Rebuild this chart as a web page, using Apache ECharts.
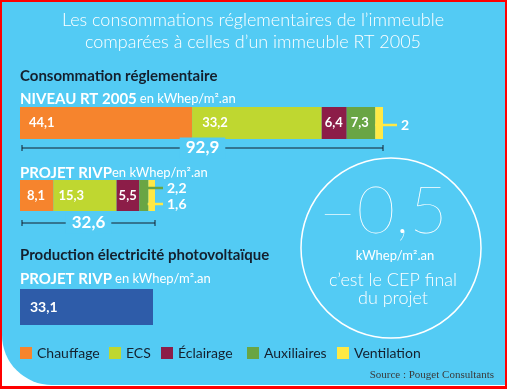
<!DOCTYPE html>
<html><head><meta charset="utf-8">
<script src="https://cdn.jsdelivr.net/npm/echarts@6/dist/echarts.min.js"></script>
<style>html,body{margin:0;padding:0;background:#fff}#c{width:507px;height:389px}</style>
</head><body><div id="c"></div>
<script>
const categories = ['Chauffage', 'ECS', 'Éclairage', 'Auxiliaires', 'Ventilation'];
const rt2005 = [44.1, 33.2, 6.4, 7.3, 2];
const rivp = [8.1, 15.3, 5.5, 2.2, 1.6];
const pvNames = ['Photovoltaïque'];
const pv = [33.1];
const rt2005Total = 92.9;
const rivpTotal = 32.6;
const cepFinal = -0.5;

const colors = ['#F6842D', '#BFD730', '#8C1D48', '#69A544', '#FFE945'];
const BG = '#53CBF4', DARK = '#14202e', FONT = 'Lato, "Open Sans", sans-serif';
const fmt = v => String(v).replace('.', ',');
const sum = a => a.reduce((s, v) => s + v, 0);

const chart = echarts.init(document.getElementById('c'), null, {renderer: 'canvas'});

const lblDistTop = [9, 10, 3, 4];
const lblDistBot = [7, 5, 2];
const series = [];
categories.forEach((name, i) => {
  series.push({
    name, type: 'bar', stack: 'rt', xAxisIndex: 0, yAxisIndex: 0, barWidth: '100%',
    data: [rt2005[i]], itemStyle: {color: colors[i]}, silent: true,
    label: {show: i < 4, position: 'insideLeft', distance: lblDistTop[i] || 5,
      formatter: p => fmt(p.value), color: '#fff', fontWeight: 'bold', fontSize: 13, fontFamily: FONT}
  });
  series.push({
    name, type: 'bar', stack: 'rivp', xAxisIndex: 1, yAxisIndex: 1, barWidth: '100%',
    data: [rivp[i]], itemStyle: {color: colors[i]}, silent: true,
    label: {show: i < 3, position: 'insideLeft', distance: lblDistBot[i] || 5,
      formatter: p => fmt(p.value), color: '#fff', fontWeight: 'bold', fontSize: 13, fontFamily: FONT}
  });
});
series.push({
  name: pvNames[0], type: 'bar', xAxisIndex: 2, yAxisIndex: 2, barWidth: '100%',
  data: pv, itemStyle: {color: '#2E5CA9'}, silent: true,
  label: {show: true, position: 'insideLeft', distance: 10, formatter: p => fmt(p.value),
    color: '#fff', fontWeight: 'bold', fontSize: 14, fontFamily: FONT}
});

const grids = [
  {left: 20, top: 107, width: 363, height: 32},
  {left: 20, top: 180, width: 135, height: 31},
  {left: 20, top: 289, width: 133, height: 36}
];
const maxes = [sum(rt2005), sum(rivp), pv[0]];
const legendX = [20, 109, 161, 247, 337];

chart.setOption({
  animation: false,
  grid: grids,
  xAxis: grids.map((g, i) => ({type: 'value', gridIndex: i, min: 0, max: maxes[i], show: false})),
  yAxis: grids.map((g, i) => ({type: 'category', gridIndex: i, data: ['a'], show: false})),
  legend: categories.map((name, i) => ({
    data: [name], left: legendX[i], top: 346, padding: 0, icon: 'rect', itemWidth: 12, itemHeight: 12,
    selectedMode: false, textStyle: {color: DARK, fontSize: 14, fontFamily: FONT}
  })),
  series
});

const px = (gi, v) => chart.convertToPixel({gridIndex: gi}, [v, 0]);

const G = [];
// frame and background
G.push({type: 'rect', z: -30, shape: {x: 0, y: 0, width: 507, height: 389}, style: {fill: '#FF0000'}, silent: true});
G.push({type: 'rect', z: -29, shape: {x: 2, y: 2, width: 503, height: 384}, style: {fill: '#fff'}, silent: true});
G.push({type: 'rect', z: -28, shape: {x: 2, y: 2, width: 503, height: 383, r: [0, 0, 0, 50]}, style: {fill: BG}, silent: true});

function text(x, y, t, st) {
  G.push({type: 'text', z: 50, x, y, silent: true,
    style: Object.assign({text: t, fill: '#fff', fontFamily: FONT, textVerticalAlign: 'middle', verticalAlign: 'middle'}, st)});
}
// title
text(253, 20, 'Les consommations réglementaires de l’immeuble', {fontSize: 18, fontWeight: 300, align: 'center'});
text(253, 42, 'comparées à celles d’un immeuble RT 2005', {fontSize: 18, fontWeight: 300, align: 'center'});
// section headings
text(20, 76, 'Consommation réglementaire', {fontSize: 15, fontWeight: 'bold', fill: DARK});
G.push({type: 'text', z: 50, x: 20, y: 99, silent: true, style: {
  text: '{b|NIVEAU RT 2005} {n|en kWhep/m².an}', verticalAlign: 'middle', fill: '#fff', fontFamily: FONT,
  rich: {b: {fontSize: 15, fontWeight: 'bold', fontFamily: FONT, fill: '#fff'}, n: {fontSize: 13, fontFamily: FONT, fill: '#fff'}}}});
G.push({type: 'text', z: 50, x: 20, y: 173, silent: true, style: {
  text: '{b|PROJET RIVP}{n|en kWhep/m².an}', verticalAlign: 'middle', fill: '#fff', fontFamily: FONT,
  rich: {b: {fontSize: 15, fontWeight: 'bold', fontFamily: FONT, fill: '#fff'}, n: {fontSize: 13, fontFamily: FONT, fill: '#fff'}}}});
text(20, 255, 'Production électricité photovoltaïque', {fontSize: 15, fontWeight: 'bold', fill: DARK});
G.push({type: 'text', z: 50, x: 20, y: 279, silent: true, style: {
  text: '{b|PROJET RIVP} {n|en kWhep/m².an}', verticalAlign: 'middle', fill: '#fff', fontFamily: FONT,
  rich: {b: {fontSize: 15, fontWeight: 'bold', fontFamily: FONT, fill: '#fff'}, n: {fontSize: 13, fontFamily: FONT, fill: '#fff'}}}});

// dimension lines for totals
function dim(gi, total, y) {
  const a = px(gi, 0)[0] + 2, b = px(gi, maxes[gi])[0];
  G.push({type: 'line', z: 40, silent: true, shape: {x1: a, y1: y, x2: b, y2: y}, style: {stroke: DARK, lineWidth: 1}});
  G.push({type: 'line', z: 40, silent: true, shape: {x1: a, y1: y - 3, x2: a, y2: y + 3}, style: {stroke: DARK, lineWidth: 1}});
  G.push({type: 'line', z: 40, silent: true, shape: {x1: b, y1: y - 3, x2: b, y2: y + 3}, style: {stroke: DARK, lineWidth: 1}});
  text((a + b) / 2, y, fmt(total), {fontSize: 17, fontWeight: 'bold', align: 'center', backgroundColor: BG, padding: [2, 6]});
}
dim(0, rt2005Total, 148);
dim(1, rivpTotal, 223);

// leader labels for small segments
function leader(gi, arr, idx, y, x2, color) {
  const start = sum(arr.slice(0, idx));
  const x1 = px(gi, start + arr[idx] / 2)[0] - 4;
  G.push({type: 'line', z: 45, silent: true, shape: {x1, y1: y, x2, y2: y}, style: {stroke: color, lineWidth: 2.5}});
  text(x2 + 4, y, fmt(arr[idx]), {fontSize: 14, fontWeight: 'bold'});
}
leader(0, rt2005, 4, 125, 397, colors[4]);
leader(1, rivp, 3, 188, 163, colors[3]);
leader(1, rivp, 4, 204, 163, colors[4]);

// circle with final CEP
G.push({type: 'circle', z: 20, silent: true, shape: {cx: 391, cy: 248, r: 90}, style: {fill: 'none', stroke: '#fff', lineWidth: 1.5}});
text(383, 212, fmt(cepFinal).replace('-', '–'), {fontSize: 66, fontWeight: 100, align: 'center'});
text(395, 256, 'kWhep/m².an', {fontSize: 13, align: 'center'});
text(393, 280, 'c’est le CEP final', {fontSize: 18, fontWeight: 300, align: 'center'});
text(393, 298, 'du projet', {fontSize: 18, fontWeight: 300, align: 'center'});

// source
text(494, 375, 'Source : Pouget Consultants', {fontSize: 11, fill: '#3a3a3a', align: 'right', fontFamily: '"Liberation Serif", "DejaVu Serif", serif'});

chart.setOption({graphic: G});
</script></body></html>
